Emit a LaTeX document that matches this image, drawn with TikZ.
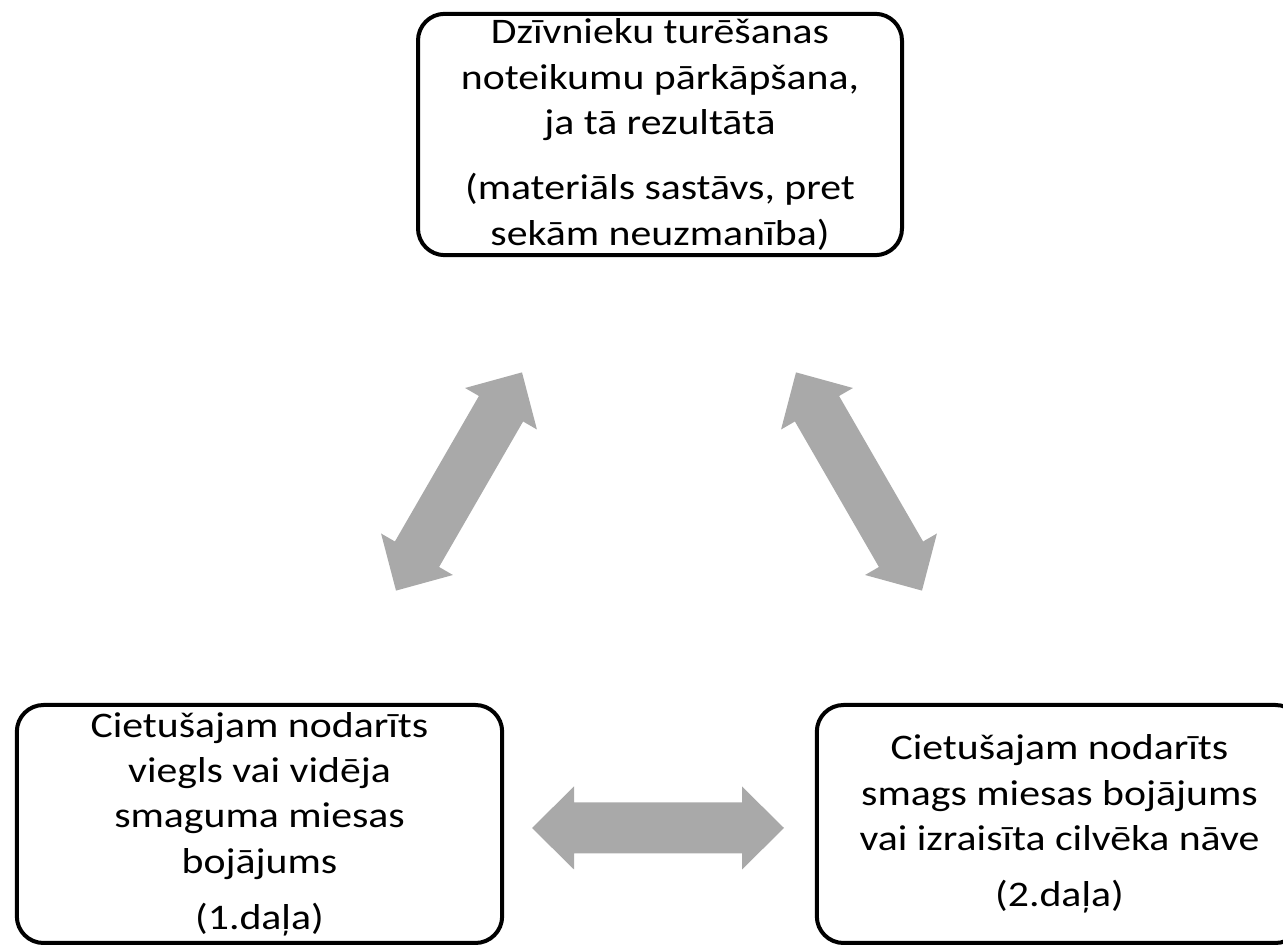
\documentclass[tikz,border=0pt]{standalone}
\usepackage{fontspec}
\setmainfont{Carlito}[FakeStretch=1.16]
\usetikzlibrary{positioning}
\definecolor{arrowgray}{RGB}{169,169,169}
\tikzset{
  box/.style={draw, line width=3pt, rounded corners=20pt, align=center, inner sep=0pt,
    font=\fontsize{27}{34}\selectfont},
  bigarrow/.style={fill=arrowgray}
}
\begin{document}
\begin{tikzpicture}[x=0.75pt, y=0.75pt]
  \useasboundingbox (0,0) rectangle (1283,946);

  % --- boxes ---
  \node[box, minimum width=363pt, minimum height=181pt] (norm) at (660,811.5)
    {Dzīvnieku turēšanas\\ noteikumu pārkāpšana,\\ ja tā rezultātā\\[15pt]
     (materiāls sastāvs, pret\\ sekām neuzmanība)};
  \node[box, minimum width=364pt, minimum height=178.5pt] (part1) at (259.5,122)
    {Cietušajam nodarīts\\ viegls vai vidēja\\ smaguma miesas\\ bojājums\\[8pt] (1.daļa)};
  \node[box, minimum width=364pt, minimum height=178.5pt] (part2) at (1059.5,122)
    {Cietušajam nodarīts\\ smags miesas bojājums\\ vai izraisīta cilvēka nāve\\[8pt] (2.daļa)};

  % --- double arrows between the boxes ---
  \foreach \cx/\cy/\ang in {459/464.5/60, 859/464.5/-60, 658/118/0}
    \fill[bigarrow, shift={(\cx,\cy)}, rotate=\ang]
      (-126,0) -- (-84,41.5) -- (-84,25.5) -- (84,25.5) -- (84,41.5) -- (126,0)
      -- (84,-41.5) -- (84,-25.5) -- (-84,-25.5) -- (-84,-41.5) -- cycle;
\end{tikzpicture}
\end{document}
